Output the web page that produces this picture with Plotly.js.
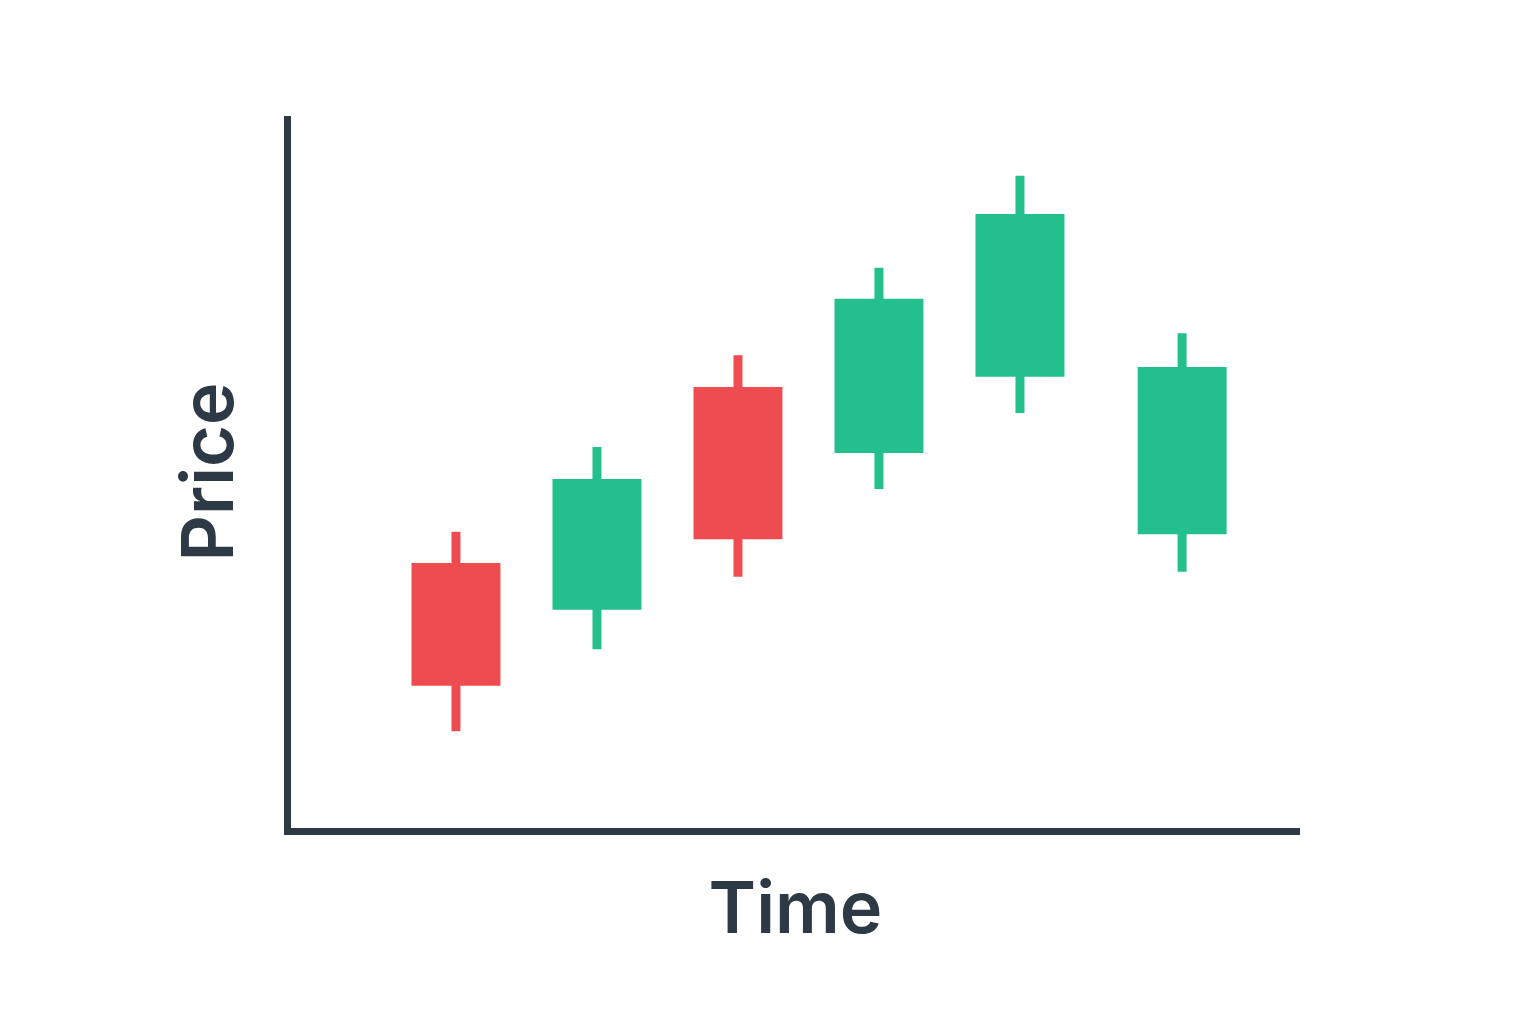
<!DOCTYPE html>
<html>
<head>
<meta charset="utf-8">
<script src="https://cdn.plot.ly/plotly-3.0.1.min.js"></script>
<style>
html,body{margin:0;padding:0;background:#ffffff;}
#chart{width:1536px;height:1024px;}
</style>
</head>
<body>
<div id="chart"></div>
<script>
// Data (arbitrary price units)
const times = [1, 2, 3, 4, 5, 6.15];
const openVals  = [36.6, 31.3, 61.3, 53.3, 64.0, 41.9];
const highVals  = [41.6, 53.5, 66.4, 78.7, 91.6, 69.5];
const lowVals   = [13.6, 25.1, 35.3, 47.6, 58.3, 36.0];
const closeVals = [20.6, 48.4, 41.2, 73.7, 85.6, 64.1];
const xTitle = 'Time';
const yTitle = 'Price';

const GREEN = '#23BF8C';
const RED = '#EF4C51';
const AXIS = '#2D3A46';

const trace = {
  type: 'candlestick',
  x: times,
  open: openVals,
  high: highVals,
  low: lowVals,
  close: closeVals,
  increasing: {line: {color: GREEN, width: 9}, fillcolor: GREEN},
  decreasing: {line: {color: RED, width: 9}, fillcolor: RED},
  whiskerwidth: 0,
  hoverinfo: 'skip',
  showlegend: false
};

const titleFont = {family: 'Inter, "Noto Sans", sans-serif', size: 72, weight: 600, color: AXIS};

const layout = {
  width: 1536,
  height: 1024,
  paper_bgcolor: '#ffffff',
  plot_bgcolor: '#ffffff',
  margin: {l: 291, r: 236, t: 116, b: 196},
  boxgap: 0.433,
  boxgroupgap: 0,
  showlegend: false,
  xaxis: {
    range: [-0.17, 6.986],
    showline: true, linewidth: 7, linecolor: AXIS,
    showgrid: false, zeroline: false, showticklabels: false, ticks: '',
    rangeslider: {visible: false},
    fixedrange: true,
    automargin: false,
    title: {text: xTitle, font: titleFont, standoff: 51}
  },
  yaxis: {
    range: [0, 100],
    showline: true, linewidth: 7, linecolor: AXIS,
    showgrid: false, zeroline: false, showticklabels: false, ticks: '',
    fixedrange: true,
    automargin: false,
    title: {text: yTitle, font: titleFont, standoff: 29}
  }
};

Plotly.newPlot('chart', [trace], layout, {staticPlot: true, displayModeBar: false});
</script>
</body>
</html>
